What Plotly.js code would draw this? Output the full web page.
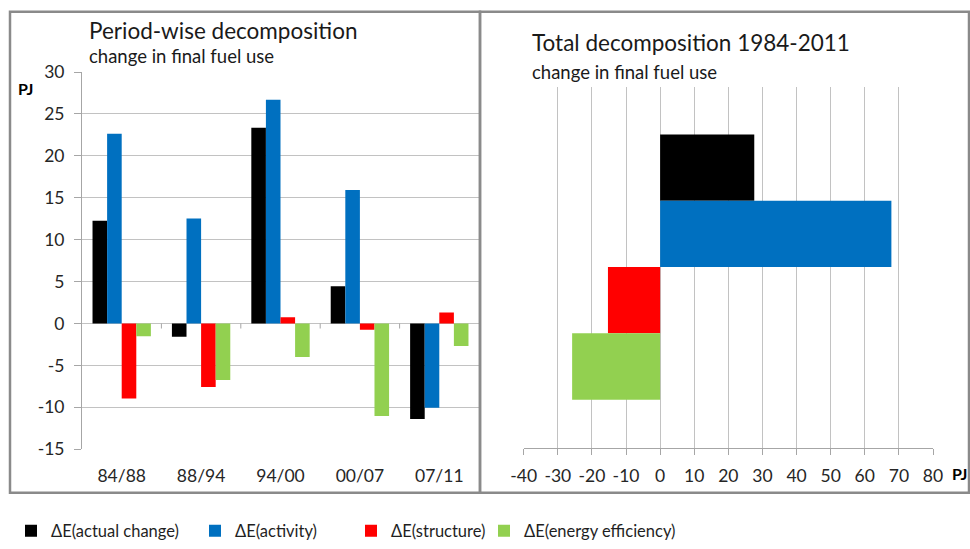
<!DOCTYPE html>
<html>
<head>
<meta charset="utf-8">
<script src="https://cdn.plot.ly/plotly-3.0.1.min.js"></script>
<style>html,body{margin:0;padding:0;background:#fff;}#chart{width:970px;height:549px;}</style>
</head>
<body>
<div id="chart"></div>
<script>
// ---- data ----
const periods = ['84/88', '88/94', '94/00', '00/07', '07/11'];
const seriesNames = ['ΔE(actual change)', 'ΔE(activity)', 'ΔE(structure)', 'ΔE(energy efficiency)'];
const seriesColors = ['#000000', '#0070C0', '#FF0000', '#92D050'];
const actualChange = [12.25, -1.57, 23.36, 4.44, -11.39];
const activity = [22.65, 12.52, 26.7, 15.94, -10.05];
const structure = [-8.95, -7.58, 0.75, -0.75, 1.3];
const efficiency = [-1.53, -6.75, -4.0, -11.03, -2.7];
const totalCategory = ['1984-2011'];
const totalValues = [27.6, 67.8, -15.3, -25.8];
const leftYTicks = [-15, -10, -5, 0, 5, 10, 15, 20, 25, 30];
const rightXTicks = [-40, -30, -20, -10, 0, 10, 20, 30, 40, 50, 60, 70, 80];

const W = 970, H = 549;
const px = v => v / W;
const py = v => 1 - v / H;
const FONT = 'Lato, "Open Sans", sans-serif';
const GRID = '#c2c2c2';
const AXIS = '#a6a6a6';
const TXT = '#262626';

const periodSeries = [actualChange, activity, structure, efficiency];
const legendIds = ['legend', 'legend2', 'legend3', 'legend4'];
const traces = [];
periodSeries.forEach((vals, i) => {
  traces.push({
    type: 'bar', x: periods, y: vals, name: seriesNames[i],
    marker: {color: seriesColors[i], line: {width: 0}},
    xaxis: 'x', yaxis: 'y', legend: legendIds[i], hoverinfo: 'y+name'
  });
});
totalValues.forEach((v, i) => {
  traces.push({
    type: 'bar', orientation: 'h', y: totalCategory, x: [v], name: seriesNames[i],
    marker: {color: seriesColors[i], line: {width: 0}},
    xaxis: 'x2', yaxis: 'y2', showlegend: false, hoverinfo: 'x+name'
  });
});

const shapes = [
  {type: 'rect', xref: 'paper', yref: 'paper', x0: px(10), x1: px(480), y0: py(499), y1: py(12), line: {color: '#8a8a8a', width: 2.5}},
  {type: 'rect', xref: 'paper', yref: 'paper', x0: px(480), x1: px(969), y0: py(499), y1: py(12), line: {color: '#8a8a8a', width: 2.5}}
];
// category divider ticks on zero line of left chart
for (let k = 0; k < periods.length - 1; k++) {
  shapes.push({type: 'line', xref: 'x', yref: 'y', x0: k + 0.5, x1: k + 0.5, y0: 0, y1: -0.6, line: {color: AXIS, width: 1}});
}

const legendBase = {orientation: 'h', yanchor: 'middle', xanchor: 'left', y: py(538),
  font: {family: FONT, size: 16.5, color: '#1f1f1f'}, bgcolor: 'rgba(0,0,0,0)', itemwidth: 30, tracegroupgap: 0};
const legendX = [11, 195, 351, 484];

const layout = {
  width: W, height: H,
  margin: {l: 0, r: 0, t: 0, b: 0},
  paper_bgcolor: '#ffffff', plot_bgcolor: '#ffffff',
  font: {family: FONT, size: 17.5, color: TXT},
  barmode: 'group', bargap: 0.265, bargroupgap: 0,
  showlegend: true,
  xaxis: {domain: [px(82), px(479)], anchor: 'y', type: 'category', showgrid: false, showline: false,
    ticks: '', ticklabelstandoff: 14, tickfont: {family: FONT, size: 17.5, color: TXT}, fixedrange: true},
  yaxis: {domain: [py(455), py(73)], anchor: 'x', range: [-15, 30], tickvals: leftYTicks,
    ticktext: leftYTicks.map(String),
    showgrid: true, gridcolor: GRID, gridwidth: 1, zeroline: true, zerolinecolor: GRID, zerolinewidth: 1,
    showline: true, linecolor: AXIS, linewidth: 1, ticks: 'outside', ticklen: 7, tickcolor: AXIS,
    ticklabelstandoff: 6, tickfont: {family: FONT, size: 17.5, color: TXT}, fixedrange: true},
  xaxis2: {domain: [px(523.7), px(933)], anchor: 'y2', range: [-40, 80], tickvals: rightXTicks,
    ticktext: rightXTicks.map(String),
    showgrid: true, gridcolor: GRID, gridwidth: 1, zeroline: true, zerolinecolor: GRID, zerolinewidth: 1,
    showline: true, linecolor: AXIS, linewidth: 1, ticks: 'outside', ticklen: 6, tickcolor: AXIS,
    ticklabelstandoff: 6, tickfont: {family: FONT, size: 17.5, color: TXT}, fixedrange: true},
  yaxis2: {domain: [py(453.3), py(87.7)], anchor: 'x2', type: 'category', autorange: 'reversed',
    showticklabels: false, showgrid: false, zeroline: false, showline: false, ticks: '', fixedrange: true},
  shapes: shapes,
  annotations: [
    {xref: 'paper', yref: 'paper', x: px(87), y: py(31), xanchor: 'left', yanchor: 'middle', showarrow: false,
      text: 'Period-wise decomposition', font: {family: FONT, size: 22.5, color: '#1a1a1a'}},
    {xref: 'paper', yref: 'paper', x: px(87), y: py(57), xanchor: 'left', yanchor: 'middle', showarrow: false,
      text: 'change in final fuel use', font: {family: FONT, size: 18.5, color: '#1a1a1a'}},
    {xref: 'paper', yref: 'paper', x: px(530), y: py(43), xanchor: 'left', yanchor: 'middle', showarrow: false,
      text: 'Total decomposition 1984-2011', font: {family: FONT, size: 22.5, color: '#1a1a1a'}},
    {xref: 'paper', yref: 'paper', x: px(530), y: py(73), xanchor: 'left', yanchor: 'middle', showarrow: false,
      text: 'change in final fuel use', font: {family: FONT, size: 18.5, color: '#1a1a1a'}},
    {xref: 'paper', yref: 'paper', x: px(26), y: py(90), xanchor: 'center', yanchor: 'middle', showarrow: false,
      text: '<b>PJ</b>', font: {family: FONT, size: 16, color: '#000'}},
    {xref: 'paper', yref: 'paper', x: px(960), y: py(480), xanchor: 'center', yanchor: 'middle', showarrow: false,
      text: '<b>PJ</b>', font: {family: FONT, size: 16, color: '#000'}}
  ]
};
legendIds.forEach((id, i) => {
  layout[id] = Object.assign({}, legendBase, {x: px(legendX[i])});
});

Plotly.newPlot('chart', traces, layout, {displayModeBar: false, staticPlot: true});
</script>
</body>
</html>
